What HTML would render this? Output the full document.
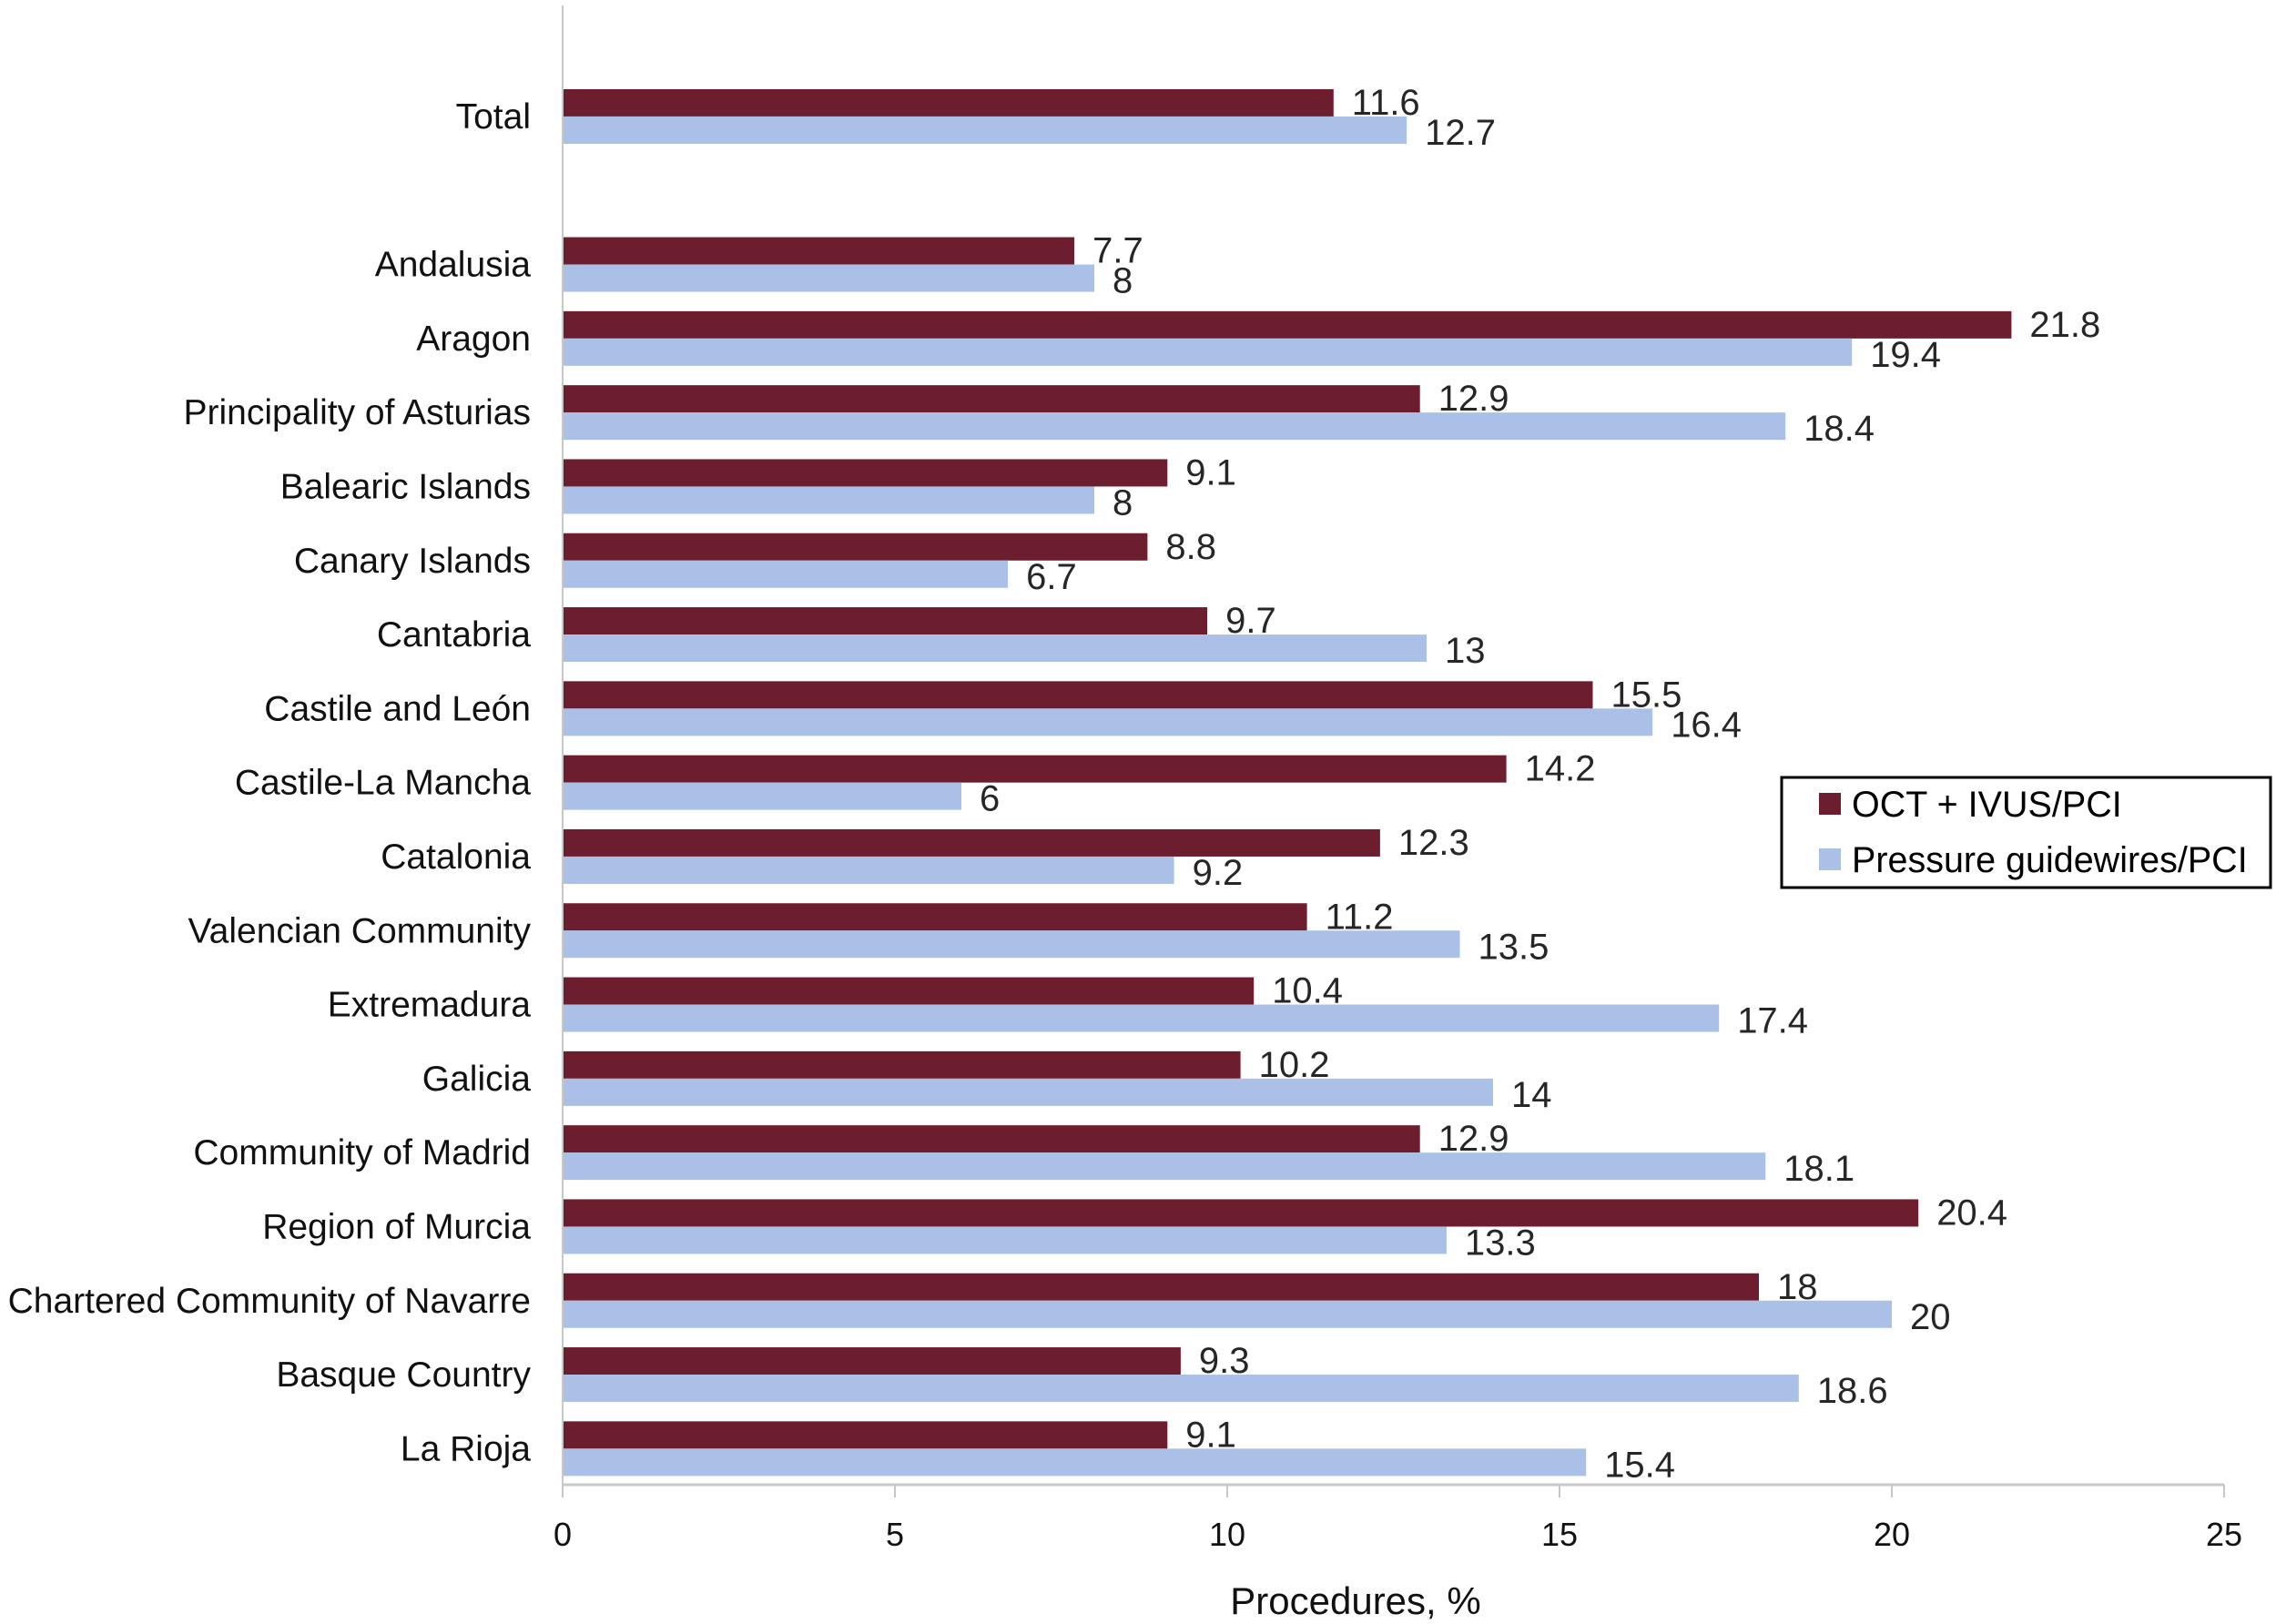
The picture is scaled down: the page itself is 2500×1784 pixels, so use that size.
<!DOCTYPE html>
<html><head><meta charset="utf-8">
<style>
html,body{margin:0;padding:0;background:#fff;}
svg{display:block;}
text{font-family:"Liberation Sans",Arial,sans-serif;}
.val{font-family:"Liberation Sans Narrow","Liberation Sans",sans-serif;font-size:40px;fill:#262626;}
</style></head>
<body>
<svg id="chart" width="2500" height="1784" viewBox="0 0 2500 1784" xmlns="http://www.w3.org/2000/svg">
<g id="bars"></g>
<g id="axes"></g>
<text x="1489" y="1773" text-anchor="middle" font-size="42" fill="#111">Procedures, %</text>
<g>
<rect x="1957" y="854" width="537" height="121" fill="#fff" stroke="#000" stroke-width="3"/>
<rect x="1998" y="871" width="24" height="24" fill="#6D1E2E"/>
<text x="2034" y="897" font-size="39.5" fill="#000">OCT + IVUS/PCI</text>
<rect x="1998" y="932" width="24" height="24" fill="#AAC0E6"/>
<text x="2034" y="958" font-size="39.5" fill="#000">Pressure guidewires/PCI</text>
</g>
</svg>
<script>
const categories = ["Total","","Andalusia","Aragon","Principality of Asturias","Balearic Islands","Canary Islands","Cantabria","Castile and León","Castile-La Mancha","Catalonia","Valencian Community","Extremadura","Galicia","Community of Madrid","Region of Murcia","Chartered Community of Navarre","Basque Country","La Rioja"];
const octValues = [11.6,null,7.7,21.8,12.9,9.1,8.8,9.7,15.5,14.2,12.3,11.2,10.4,10.2,12.9,20.4,18,9.3,9.1];
const pressureValues = [12.7,null,8,19.4,18.4,8,6.7,13,16.4,6,9.2,13.5,17.4,14,18.1,13.3,20,18.6,15.4];
const xTicks = [0,5,10,15,20,25];

const NS = "http://www.w3.org/2000/svg";
const x0 = 618, x1 = 2443, xMax = 25;
const yTop = 6, yBottom = 1632, nSlots = 20;
const pitch = (yBottom - yTop) / nSlots;
function xScale(v){ return x0 + (x1 - x0) * v / xMax; }
function yCenter(i){ return yTop + pitch * (i + 1.5); }
const barH = 30;
function mk(tag, attrs, parent){
  const el = document.createElementNS(NS, tag);
  for (const k in attrs) el.setAttribute(k, attrs[k]);
  parent.appendChild(el);
  return el;
}
const barsG = document.getElementById('bars');
const axesG = document.getElementById('axes');
categories.forEach((c, i) => {
  if (!c) return;
  const yc = yCenter(i);
  const lab = mk('text', {x: 583, y: yc + 13, 'text-anchor': 'end', 'font-size': 39, fill: '#111'}, barsG);
  lab.textContent = c;
  
  
  const vo = octValues[i], vp = pressureValues[i];
  const r1 = mk('rect', {x: x0, y: yc - barH, width: xScale(vo) - x0, height: barH, fill: '#6D1E2E'}, barsG);
  
  
  const r2 = mk('rect', {x: x0, y: yc, width: xScale(vp) - x0, height: barH, fill: '#AAC0E6'}, barsG);
  
  
  const t1 = mk('text', {x: xScale(vo) + 20, y: yc - barH/2 + 13, class: 'val'}, barsG);
  t1.textContent = String(vo);
  
  
  const t2 = mk('text', {x: xScale(vp) + 20, y: yc + barH/2 + 16, class: 'val'}, barsG);
  t2.textContent = String(vp);
  
  
});
const yAx = mk('line', {x1: x0, y1: yTop, x2: x0, y2: 1632, stroke: '#c8c8c8', 'stroke-width': 2}, axesG);


const xAx = mk('line', {x1: x0, y1: 1631, x2: x1, y2: 1631, stroke: '#c8c8c8', 'stroke-width': 3}, axesG);


xTicks.forEach(v => {
  const tk = mk('line', {x1: xScale(v), y1: 1631, x2: xScale(v), y2: 1645, stroke: '#c8c8c8', 'stroke-width': 2}, axesG);
  
  
  const tl = mk('text', {x: xScale(v), y: 1698, 'text-anchor': 'middle', 'font-size': 36, fill: '#111'}, axesG);
  tl.textContent = String(v);
  
  
});
</script>
</body></html>
